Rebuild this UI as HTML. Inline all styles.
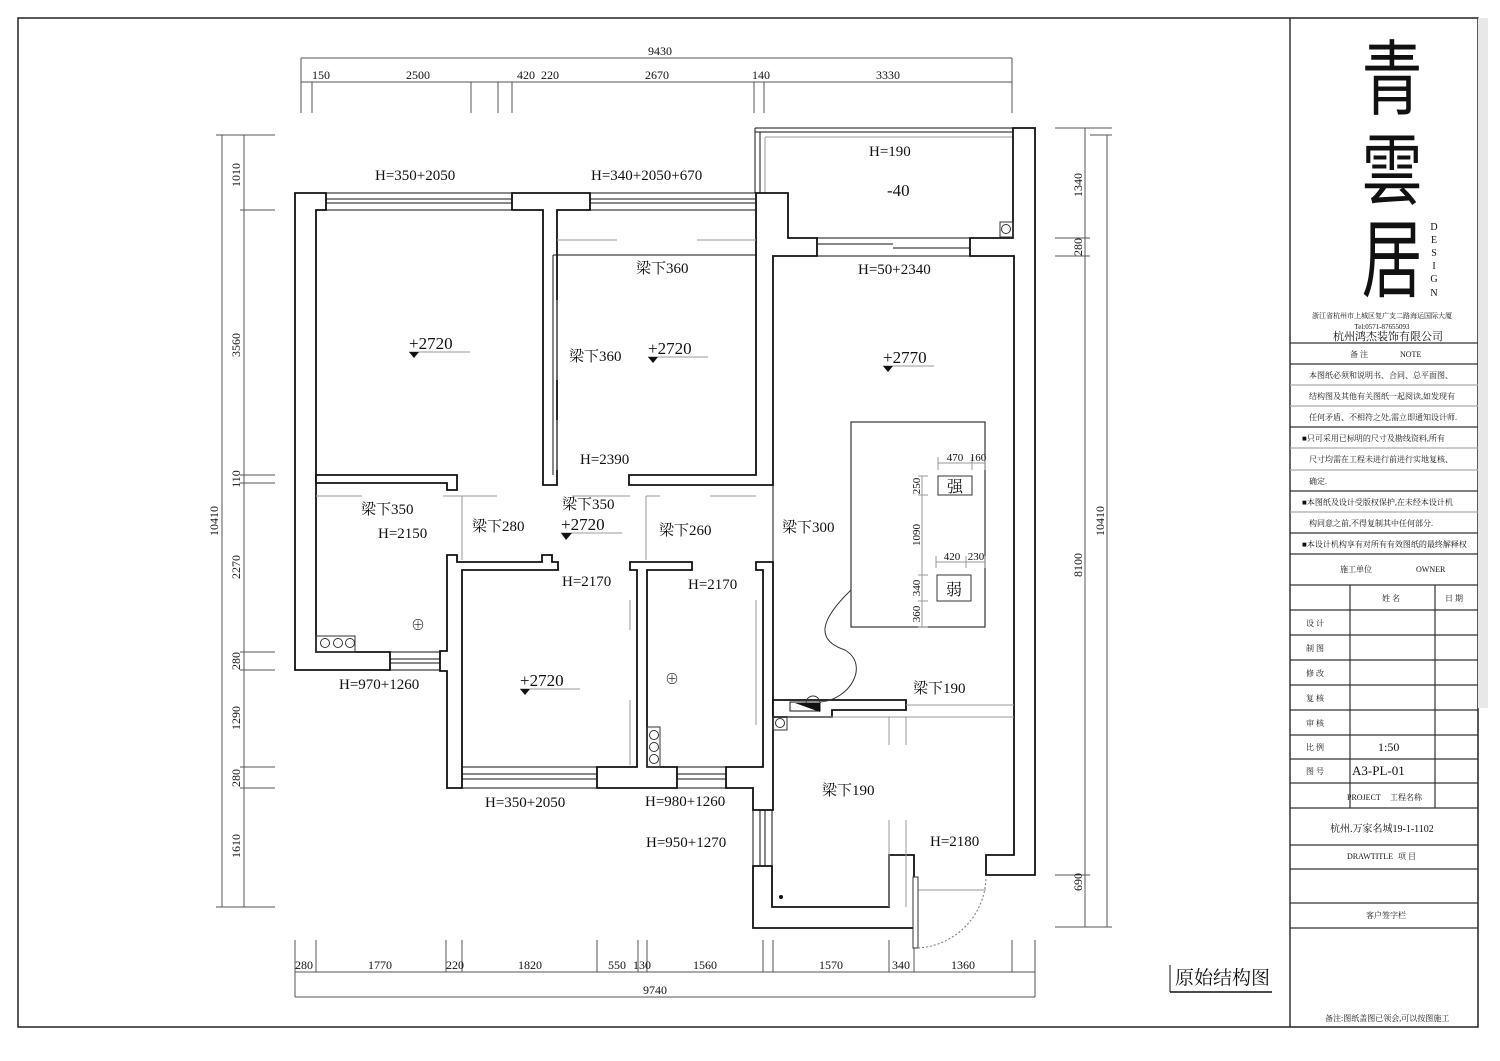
<!DOCTYPE html>
<html><head><meta charset="utf-8"><style>
html,body{margin:0;padding:0;background:#fff}
svg{display:block}
text{font-family:"Liberation Serif","Noto Serif CJK SC",serif;fill:#111}
.w{fill:#fff;stroke:#111;stroke-width:1.8}
.g{stroke:#999;stroke-width:1;fill:none}
.k{stroke:#111;stroke-width:1;fill:none}
.d{stroke:#555;stroke-width:1;fill:none}
</style></head><body>
<svg width="1500" height="1061" viewBox="0 0 1500 1061" xmlns="http://www.w3.org/2000/svg">
<rect x="0" y="0" width="1500" height="1061" fill="#fff"/>
<rect x="18" y="18" width="1460" height="1009" fill="none" stroke="#222" stroke-width="1.5"/>
<rect x="1478" y="18" width="10" height="690" fill="#e8e8e8"/>
<line x1="1290" y1="18" x2="1290" y2="1027" stroke="#333" stroke-width="1.5"/>

<g class="d">
<line x1="301" y1="58" x2="1012" y2="58"/>
<line x1="301" y1="82" x2="1012" y2="82"/>
<line x1="301" y1="58" x2="301" y2="113"/><line x1="312" y1="82" x2="312" y2="113"/>
<line x1="471" y1="82" x2="471" y2="113"/><line x1="498" y1="82" x2="498" y2="113"/>
<line x1="512" y1="82" x2="512" y2="113"/><line x1="754" y1="82" x2="754" y2="113"/>
<line x1="764" y1="82" x2="764" y2="113"/><line x1="1012" y1="58" x2="1012" y2="113"/>
<line x1="295" y1="972" x2="1035" y2="972"/>
<line x1="295" y1="997" x2="1035" y2="997"/>
<line x1="295" y1="940" x2="295" y2="997"/><line x1="316" y1="940" x2="316" y2="972"/>
<line x1="446" y1="940" x2="446" y2="972"/><line x1="462" y1="940" x2="462" y2="972"/>
<line x1="597" y1="940" x2="597" y2="972"/><line x1="638" y1="940" x2="638" y2="972"/>
<line x1="647" y1="940" x2="647" y2="972"/><line x1="763" y1="940" x2="763" y2="972"/>
<line x1="773" y1="940" x2="773" y2="972"/><line x1="889" y1="940" x2="889" y2="972"/>
<line x1="914" y1="940" x2="914" y2="972"/><line x1="1012" y1="940" x2="1012" y2="972"/>
<line x1="1035" y1="940" x2="1035" y2="997"/>
<line x1="222" y1="135" x2="222" y2="907"/>
<line x1="244" y1="135" x2="244" y2="907"/>
<line x1="216" y1="135" x2="275" y2="135"/><line x1="240" y1="210" x2="275" y2="210"/>
<line x1="240" y1="475" x2="275" y2="475"/><line x1="240" y1="483" x2="275" y2="483"/>
<line x1="240" y1="652" x2="275" y2="652"/><line x1="240" y1="670" x2="275" y2="670"/>
<line x1="240" y1="767" x2="275" y2="767"/><line x1="240" y1="788" x2="275" y2="788"/>
<line x1="216" y1="907" x2="275" y2="907"/>
<line x1="1085" y1="128" x2="1085" y2="927"/>
<line x1="1107" y1="135" x2="1107" y2="927"/>
<line x1="1055" y1="128" x2="1112" y2="128"/><line x1="1055" y1="238" x2="1090" y2="238"/>
<line x1="1055" y1="256" x2="1090" y2="256"/><line x1="1055" y1="875" x2="1090" y2="875"/>
<line x1="1055" y1="927" x2="1112" y2="927"/><line x1="1090" y1="135" x2="1112" y2="135"/>
</g>
<g font-size="12" text-anchor="middle">
<text x="660" y="55">9430</text>
<text x="321" y="79">150</text><text x="418" y="79">2500</text><text x="526" y="79">420</text>
<text x="550" y="79">220</text><text x="657" y="79">2670</text><text x="761" y="79">140</text>
<text x="888" y="79">3330</text>
<text x="304" y="969">280</text><text x="380" y="969">1770</text><text x="455" y="969">220</text>
<text x="530" y="969">1820</text><text x="617" y="969">550</text><text x="642" y="969">130</text>
<text x="705" y="969">1560</text><text x="831" y="969">1570</text><text x="901" y="969">340</text>
<text x="963" y="969">1360</text><text x="655" y="994">9740</text>
</g>
<g font-size="12" text-anchor="middle">
<text transform="translate(240,175) rotate(-90)">1010</text>
<text transform="translate(240,345) rotate(-90)">3560</text>
<text transform="translate(240,479) rotate(-90)">110</text>
<text transform="translate(240,567) rotate(-90)">2270</text>
<text transform="translate(240,661) rotate(-90)">280</text>
<text transform="translate(240,718) rotate(-90)">1290</text>
<text transform="translate(240,778) rotate(-90)">280</text>
<text transform="translate(240,846) rotate(-90)">1610</text>
<text transform="translate(218,521) rotate(-90)">10410</text>
<text transform="translate(1082,185) rotate(-90)">1340</text>
<text transform="translate(1082,247) rotate(-90)">280</text>
<text transform="translate(1082,565) rotate(-90)">8100</text>
<text transform="translate(1082,882) rotate(-90)">690</text>
<text transform="translate(1104,521) rotate(-90)">10410</text>
</g>

<g class="k" stroke-width="0.8">
<path d="M326 193H512M326 199H512M326 203H512M326 210H512"/>
<path d="M590 193H755M590 199H755M590 203H755M590 210H755"/>
<path d="M390 652H440M390 659H440M390 663H440M390 670H440"/>
<path d="M462 767H597M462 774H597M462 779H597M462 788H597"/>
<path d="M677 767H726M677 774H726M677 779H726M677 788H726"/>
<path d="M817 238H970M817 244H893M893 248H970M817 256H970"/>
<path d="M753 810V866M760 810V866M765 810V866M772 810V866"/>
<path d="M755 128H1013M755 132H1013M755 128V193M760 132V193"/>
</g>
<path class="g" d="M765 137H1013V233M765 137V193"/>

<polygon class="w" points="295,193 326,193 326,210 316,210 316,652 390,652 390,670 295,670"/>
<polygon class="w" points="512,193 590,193 590,210 557,210 557,485 543,485 543,210 512,210"/>
<polygon class="w" points="316,475 457,475 457,490 447,490 447,483 316,483"/>
<polygon class="w" points="447,555 457,555 457,562 542,562 542,555 552,555 552,562 558,562 558,570 462,570 462,788 447,788 447,671 440,671 440,651 447,651"/>
<polygon class="w" points="597,767 637,767 637,570 630,570 630,562 692,562 692,570 647,570 647,767 677,767 677,788 597,788"/>
<polygon class="w" points="726,767 763,767 763,570 756,570 756,562 773,562 773,810 753,810 753,788 726,788"/>
<polygon class="w" points="753,866 772,866 772,907 889,907 889,855 914,855 914,928 753,928"/>
<polygon class="w" points="755,193 788,193 788,238 817,238 817,256 773,256 773,485 629,485 629,475 756,475 756,193"/>
<polygon class="w" points="1013,128 1035,128 1035,875 986,875 986,855 1014,855 1014,256 970,256 970,238 1013,238"/>
<polygon class="w" points="773,700 906,700 906,710 832,710 832,717 773,717"/>
<line x1="773" y1="485" x2="773" y2="562" class="k" stroke-width="1.8"/>
<line x1="553" y1="255" x2="553" y2="475" class="k" stroke-width="1.5"/>
<line x1="553" y1="255" x2="756" y2="255" class="k" stroke-width="1.5"/>

<g class="g">
<path d="M557 240H617M697 240H756"/>
<path d="M316 496H362M443 496H497M462 496V560M462 496H472M572 496H630M646 496V560M646 496H660M710 496H756"/>
<path d="M557 300V380M557 420V470"/>
<path d="M630 600V630M630 700V765M756 600V640M756 650V680"/>
<path d="M906 705H1014M773 717H906M880 717H1014M889 717V745M906 717V745M889 820V907M906 820V907"/>
<path d="M756 600V725"/>
<path d="M914 890H986"/>
</g>
<rect x="851" y="422" width="134" height="205" fill="none" stroke="#333" stroke-width="1.2"/>
<rect x="938" y="476" width="34" height="19" fill="none" stroke="#333"/>
<rect x="937" y="575" width="34" height="26" fill="none" stroke="#333"/>
<g class="g" stroke="#444">
<path d="M922 476V627M918 476H928M918 495H928M918 575H928M918 601H928M918 627H928"/>
<path d="M938 463H985M938 457V470M972 457V470M985 457V470"/>
<path d="M936 562H985M936 556V568M966 556V568M985 556V568"/>
</g>
<g font-size="16" text-anchor="middle"><text x="955" y="492">强</text><text x="954" y="595">弱</text></g>
<g font-size="11" text-anchor="middle">
<text x="955" y="461">470</text><text x="978" y="461">160</text>
<text x="952" y="560">420</text><text x="976" y="560">230</text>
<text transform="translate(920,486) rotate(-90)">250</text>
<text transform="translate(920,535) rotate(-90)">1090</text>
<text transform="translate(920,588) rotate(-90)">340</text>
<text transform="translate(920,614) rotate(-90)">360</text>
</g>
<path d="M851 590 C820 620,815 640,845 650 C870 665,850 700,820 702" fill="none" stroke="#333"/>
<rect x="790" y="702" width="30" height="9" fill="#fff" stroke="#111"/>
<polygon points="795,703 820,703 820,712" fill="#111"/>
<path d="M806 703 a7 7 0 0 1 14 0" fill="none" stroke="#333"/>
<rect x="773" y="717" width="14" height="13" fill="none" stroke="#333"/><circle cx="780" cy="723" r="4.5" fill="none" stroke="#333"/>
<rect x="1000" y="222" width="13" height="15" fill="none" stroke="#333"/><circle cx="1006" cy="229" r="4.5" fill="none" stroke="#333"/>
<rect x="316" y="636" width="39" height="16" fill="none" stroke="#333"/>
<circle cx="325" cy="643" r="4.5" fill="none" stroke="#333"/><circle cx="338" cy="643" r="4.5" fill="none" stroke="#333"/><circle cx="350" cy="643" r="4.5" fill="none" stroke="#333"/>
<rect x="647" y="727" width="13" height="40" fill="none" stroke="#333"/>
<circle cx="654" cy="735" r="4.5" fill="none" stroke="#333"/><circle cx="654" cy="747" r="4.5" fill="none" stroke="#333"/><circle cx="654" cy="759" r="4.5" fill="none" stroke="#333"/>
<g font-size="14" text-anchor="middle"><text x="418" y="630">⊕</text><text x="672" y="684">⊕</text></g>
<circle cx="781" cy="897" r="2" fill="#111"/>
<rect x="913" y="877" width="5" height="71" fill="#fff" stroke="#333"/>
<path d="M918 948 A72 72 0 0 0 986 877" fill="none" stroke="#777" stroke-dasharray="2,2"/>

<g font-size="17">
<text x="409" y="349">+2720</text><path d="M409 352H470" class="g"/><polygon points="409,352 419,352 414,358" fill="#111"/>
<text x="648" y="354">+2720</text><path d="M648 357H708" class="g"/><polygon points="648,357 658,357 653,363" fill="#111"/>
<text x="883" y="363">+2770</text><path d="M883 366H934" class="g"/><polygon points="883,366 893,366 888,372" fill="#111"/>
<text x="561" y="530">+2720</text><path d="M561 533H622" class="g"/><polygon points="561,533 572,533 566,540" fill="#111"/>
<text x="520" y="686">+2720</text><path d="M520 689H580" class="g"/><polygon points="520,689 530,689 525,695" fill="#111"/>
<text x="887" y="196">-40</text>
</g>
<g font-size="15">
<text x="375" y="180">H=350+2050</text>
<text x="591" y="180">H=340+2050+670</text>
<text x="869" y="156">H=190</text>
<text x="858" y="274">H=50+2340</text>
<text x="636" y="273">梁下360</text>
<text x="569" y="361">梁下360</text>
<text x="580" y="464">H=2390</text>
<text x="361" y="514">梁下350</text>
<text x="378" y="538">H=2150</text>
<text x="472" y="531">梁下280</text>
<text x="562" y="509">梁下350</text>
<text x="659" y="535">梁下260</text>
<text x="782" y="532">梁下300</text>
<text x="562" y="586">H=2170</text>
<text x="688" y="589">H=2170</text>
<text x="339" y="689">H=970+1260</text>
<text x="913" y="693">梁下190</text>
<text x="822" y="795">梁下190</text>
<text x="485" y="807">H=350+2050</text>
<text x="645" y="806">H=980+1260</text>
<text x="646" y="847">H=950+1270</text>
<text x="930" y="846">H=2180</text>
</g>
<text x="1175" y="984" font-size="19">原始结构图</text>
<path d="M1170 992H1272" stroke="#111" stroke-width="1.5"/>
<path d="M1170 965V992" stroke="#111" stroke-width="1"/>

<g font-size="78" text-anchor="middle" style="font-family:'Noto Sans CJK SC',sans-serif">
<text transform="translate(1392,108) scale(0.78,1.05)" style="font-family:'Noto Sans CJK SC',sans-serif">青</text>
<text transform="translate(1392,198) scale(0.78,1.0)" style="font-family:'Noto Sans CJK SC',sans-serif">雲</text>
<text transform="translate(1392,290) scale(0.78,1.1)" style="font-family:'Noto Sans CJK SC',sans-serif">居</text>
</g>
<g font-size="10" text-anchor="middle">
<text x="1434" y="230">D</text><text x="1434" y="243">E</text><text x="1434" y="256">S</text>
<text x="1434" y="269">I</text><text x="1434" y="282">G</text><text x="1434" y="296">N</text>
</g>
<g font-size="7" text-anchor="middle"><text x="1382" y="318">浙江省杭州市上城区复广支二路海运国际大厦</text><text x="1382" y="329">Tel:0571-87655093</text></g>
<text x="1388" y="340" font-size="11" text-anchor="middle">杭州鸿杰装饰有限公司</text>
<g stroke="#333" stroke-width="1.2">
<line x1="1290" y1="343" x2="1478" y2="343"/><line x1="1290" y1="364" x2="1478" y2="364"/>
<line x1="1290" y1="385" x2="1478" y2="385" stroke="#aaa"/><line x1="1290" y1="406" x2="1478" y2="406" stroke="#aaa"/>
<line x1="1290" y1="427" x2="1478" y2="427"/><line x1="1290" y1="448" x2="1478" y2="448" stroke="#aaa"/>
<line x1="1290" y1="470" x2="1478" y2="470" stroke="#aaa"/><line x1="1290" y1="491" x2="1478" y2="491"/>
<line x1="1290" y1="512" x2="1478" y2="512" stroke="#aaa"/><line x1="1290" y1="533" x2="1478" y2="533"/>
<line x1="1290" y1="554" x2="1478" y2="554"/><line x1="1290" y1="585" x2="1478" y2="585"/>
<line x1="1290" y1="610" x2="1478" y2="610"/><line x1="1290" y1="635" x2="1478" y2="635"/>
<line x1="1290" y1="660" x2="1478" y2="660"/><line x1="1290" y1="685" x2="1478" y2="685"/>
<line x1="1290" y1="710" x2="1478" y2="710"/><line x1="1290" y1="735" x2="1478" y2="735"/>
<line x1="1290" y1="759" x2="1478" y2="759"/><line x1="1290" y1="783" x2="1478" y2="783"/>
<line x1="1290" y1="808" x2="1478" y2="808"/><line x1="1290" y1="845" x2="1478" y2="845"/>
<line x1="1290" y1="869" x2="1478" y2="869"/><line x1="1290" y1="903" x2="1478" y2="903"/>
<line x1="1290" y1="928" x2="1478" y2="928"/>
<line x1="1350" y1="585" x2="1350" y2="808"/><line x1="1435" y1="585" x2="1435" y2="808"/>
</g>
<g font-size="8">
<text x="1350" y="357">备 注</text><text x="1400" y="357">NOTE</text>
<text x="1309" y="378">本图纸必须和说明书、合同、总平面图、</text>
<text x="1309" y="399">结构图及其他有关图纸一起阅读,如发现有</text>
<text x="1309" y="420">任何矛盾、不相符之处,需立即通知设计师.</text>
<text x="1302" y="441">■只可采用已标明的尺寸及勘线资料,所有</text>
<text x="1309" y="462">尺寸均需在工程未进行前进行实地复核、</text>
<text x="1309" y="484">确定.</text>
<text x="1302" y="505">■本图纸及设计受版权保护,在未经本设计机</text>
<text x="1309" y="526">构同意之前,不得复制其中任何部分.</text>
<text x="1302" y="547">■本设计机构享有对所有有效图纸的最终解释权</text>
<text x="1340" y="572">施工单位</text><text x="1416" y="572">OWNER</text>
<text x="1382" y="601">姓 名</text><text x="1445" y="601">日 期</text>
<text x="1306" y="626">设 计</text><text x="1306" y="651">制 图</text><text x="1306" y="676">修 改</text>
<text x="1306" y="701">复 核</text><text x="1306" y="726">审 核</text><text x="1306" y="750">比 例</text>
<text x="1306" y="774">图 号</text>
<text x="1347" y="800">PROJECT</text><text x="1390" y="800">工程名称</text>
<text x="1347" y="859">DRAWTITLE</text><text x="1398" y="859">项 目</text>
<text x="1366" y="918">客户签字栏</text>
<text x="1325" y="1021">备注:图纸盖图已领会,可以按图施工</text>
</g>
<text x="1378" y="751" font-size="12">1:50</text>
<text x="1352" y="775" font-size="13">A3-PL-01</text>
<text x="1330" y="832" font-size="10">杭州.万家名城19-1-1102</text>
</svg>
</body></html>
